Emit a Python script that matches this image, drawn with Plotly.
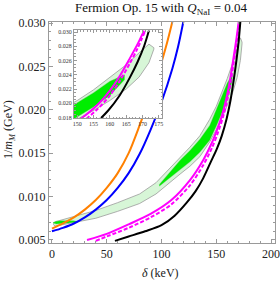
import plotly.graph_objects as go

# ---------------- data ----------------
delta_orange = [0, 10, 20, 30, 40, 50, 60, 70, 80, 90, 100, 105, 110]
invm_orange = [0.0063, 0.0069, 0.0076, 0.0085, 0.0096, 0.0110, 0.0127, 0.0150, 0.0182, 0.0217, 0.0255, 0.0277, 0.0302]

delta_blue = [0, 10, 20, 30, 40, 50, 60, 70, 80, 90, 100, 110, 115, 120]
invm_blue = [0.0060, 0.0064, 0.0069, 0.0076, 0.0085, 0.0096, 0.0110, 0.0127, 0.0149, 0.0177, 0.0209, 0.0248, 0.0272, 0.0302]

delta_magenta = [32, 50, 70, 90, 109, 126, 138, 146, 151, 156, 160, 163, 166, 168.5, 170.5]
invm_magenta = [0.0050, 0.0057, 0.0068, 0.0080, 0.0096, 0.0119, 0.0142, 0.0162, 0.0178, 0.0197, 0.0218, 0.0238, 0.0262, 0.0283, 0.0302]

delta_magenta_dash = [40, 50, 70, 90, 109, 126, 138, 146, 151, 156, 160, 163, 166, 168.5, 170.7]
invm_magenta_dash = [0.0049, 0.0054, 0.0064, 0.0076, 0.0091, 0.0113, 0.0136, 0.0156, 0.0172, 0.0191, 0.0211, 0.0231, 0.0255, 0.0277, 0.0300]

delta_black = [57.5, 70, 85, 100, 112, 123, 131, 138, 145, 150.5, 155, 159.5, 163, 166, 168.5, 170.5, 172]
invm_black = [0.0049, 0.0054, 0.0060, 0.0067, 0.0078, 0.0093, 0.0106, 0.0121, 0.0140, 0.0155, 0.0170, 0.0190, 0.0211, 0.0235, 0.0258, 0.0280, 0.0302]

# light-green allowed band (lower / upper edge)
band_delta = [1, 3, 20, 40, 60, 80, 95, 105, 117, 126, 135, 144, 150, 155, 160, 165, 169, 172, 173.5]
band_lo = [0.0068, 0.0066, 0.0070, 0.0075, 0.0083, 0.0092, 0.0103, 0.0113, 0.0126, 0.0135, 0.0146, 0.0163, 0.0177, 0.0190, 0.0204, 0.0220, 0.0237, 0.0257, 0.0276]
band_hi = [0.0069, 0.0071, 0.0077, 0.0084, 0.0093, 0.0103, 0.0116, 0.0129, 0.0145, 0.0157, 0.0170, 0.0189, 0.0204, 0.0219, 0.0236, 0.0254, 0.0271, 0.0283, 0.0278]

# bright-green regions
dark1_delta = [1, 4, 8, 12, 16, 20, 23]
dark1_lo = [0.00695, 0.00685, 0.00685, 0.00690, 0.00695, 0.00700, 0.00705]
dark1_hi = [0.00700, 0.00715, 0.00720, 0.00722, 0.00722, 0.00720, 0.00712]

dark2_delta = [98, 102, 107, 117, 126, 135, 144, 150, 155, 160, 164.5]
dark2_lo = [0.0112, 0.0115, 0.0120, 0.0131, 0.0140, 0.0151, 0.0165, 0.0181, 0.0195, 0.0211, 0.0233]
dark2_hi = [0.0114, 0.0120, 0.0128, 0.0142, 0.0153, 0.0166, 0.0182, 0.0201, 0.0215, 0.0231, 0.0240]

x_ticks = [0, 50, 100, 150, 200]
y_ticks = [0.005, 0.010, 0.015, 0.020, 0.025, 0.030]
y_ticktext = ["0.005", "0.010", "0.015", "0.020", "0.025", "0.030"]
inset_x_ticks = [150, 155, 160, 165, 170, 175]
inset_y_ticks = [0.018, 0.020, 0.022, 0.024, 0.026, 0.028, 0.030]
inset_y_ticktext = ["0.018", "0.020", "0.022", "0.024", "0.026", "0.028", "0.030"]

# ---------------- figure ----------------
fig = go.Figure()

FONT = "Liberation Serif"
GRAY = "#9a9a9a"


def poly(d, lo, hi):
    return list(d) + list(d)[::-1], list(hi) + list(lo)[::-1]


def add_all(xa, ya, lw):
    px, py = poly(band_delta, band_lo, band_hi)
    fig.add_trace(go.Scatter(x=px, y=py, fill="toself", mode="lines",
                             fillcolor="#d7f6d7", line=dict(color=GRAY, width=0.8),
                             xaxis=xa, yaxis=ya, hoverinfo="skip", showlegend=False))
    for d, lo, hi in [(dark1_delta, dark1_lo, dark1_hi), (dark2_delta, dark2_lo, dark2_hi)]:
        px, py = poly(d, lo, hi)
        fig.add_trace(go.Scatter(x=px, y=py, fill="toself", mode="lines",
                                 fillcolor="#00ee00", line=dict(color="rgba(120,180,120,0.6)", width=0.6),
                                 xaxis=xa, yaxis=ya, hoverinfo="skip", showlegend=False))
    lines = [
        (delta_orange, invm_orange, "#ff8000", None),
        (delta_blue, invm_blue, "#0000ff", None),
        (delta_magenta_dash, invm_magenta_dash, "#ff00ff", "dash"),
        (delta_magenta, invm_magenta, "#ff00ff", None),
        (delta_black, invm_black, "#000000", None),
    ]
    for d, v, c, dash in lines:
        fig.add_trace(go.Scatter(x=d, y=v, mode="lines",
                                 line=dict(color=c, width=lw, shape="spline", smoothing=0.8,
                                           dash="4px,2px" if dash else None),
                                 xaxis=xa, yaxis=ya, hoverinfo="skip", showlegend=False))


add_all("x", "y", 2)
add_all("x3", "y3", 2)

W, H = 280, 281
L, R, T, B = 49, 5, 22, 38
pw, ph = W - L - R, H - T - B


def px2dom_x(a, b):
    return [(a - L) / pw, (b - L) / pw]


def px2dom_y(top, bottom):
    return [(H - B - bottom) / ph, (H - B - top) / ph]


axis_common = dict(showgrid=False, zeroline=False, showline=True, linecolor=GRAY, linewidth=1,
                   mirror="allticks", ticks="inside", tickcolor=GRAY, automargin=False,
                   ticklabeloverflow="allow")

fig.update_layout(
    width=W, height=H,
    margin=dict(l=L, r=R, t=T, b=B, autoexpand=False),
    paper_bgcolor="white", plot_bgcolor="white",
    showlegend=False,
    title=dict(text="Fermion Op. 15 with <i>Q</i><sub>NaI</sub> = 0.04",
               x=0.575, xanchor="center", y=0.972, yanchor="middle",
               font=dict(family=FONT, size=13, color="#111")),
    xaxis=dict(**axis_common, range=[-2.7, 203.6], tickvals=x_ticks, ticklen=4,
               minor=dict(dtick=10, ticklen=2, ticks="inside", tickcolor=GRAY),
               tickfont=dict(family=FONT, size=12, color="#222")),
    yaxis=dict(**axis_common, range=[0.00465, 0.03012], tickvals=y_ticks, ticktext=y_ticktext, ticklen=4,
               minor=dict(dtick=0.001, ticklen=2, ticks="inside", tickcolor=GRAY),
               tickfont=dict(family=FONT, size=12, color="#222")),
    # white backing box for the inset (covers inset tick labels area)
    xaxis2=dict(domain=px2dom_x(52, 165), range=[0, 1], visible=False, anchor="y2", automargin=False),
    yaxis2=dict(domain=px2dom_y(28, 124), range=[0, 1], visible=False, anchor="x2", automargin=False),
    # inset
    xaxis3=dict(**axis_common, domain=px2dom_x(74, 162), range=[149, 176], anchor="y3",
                tickvals=inset_x_ticks, ticklen=3,
                minor=dict(dtick=1, ticklen=1.5, ticks="inside", tickcolor=GRAY),
                tickfont=dict(family=FONT, size=6, color="#333")),
    yaxis3=dict(**axis_common, domain=px2dom_y(30, 118), range=[0.01795, 0.03028], anchor="x3",
                tickvals=inset_y_ticks, ticktext=inset_y_ticktext, ticklen=3,
                minor=dict(dtick=0.0005, ticklen=1.5, ticks="inside", tickcolor=GRAY),
                tickfont=dict(family=FONT, size=6, color="#333")),
    annotations=[
        dict(text="<i>δ</i> (keV)", xref="paper", yref="paper",
             x=(160 - L) / pw, y=(H - B - 273) / ph, xanchor="center", yanchor="middle",
             showarrow=False, font=dict(family=FONT, size=12, color="#222")),
        dict(text="1/<i>m</i><sub><i>M</i></sub> (GeV)", xref="paper", yref="paper",
             x=(9 - L) / pw, y=(H - B - 130) / ph, xanchor="center", yanchor="middle",
             textangle=-90, showarrow=False, font=dict(family=FONT, size=12, color="#222")),
    ],
)

fig.write_html("out.html", config={"displayModeBar": False},
               post_script="document.body.style.margin='0px';document.body.style.overflow='hidden';")
